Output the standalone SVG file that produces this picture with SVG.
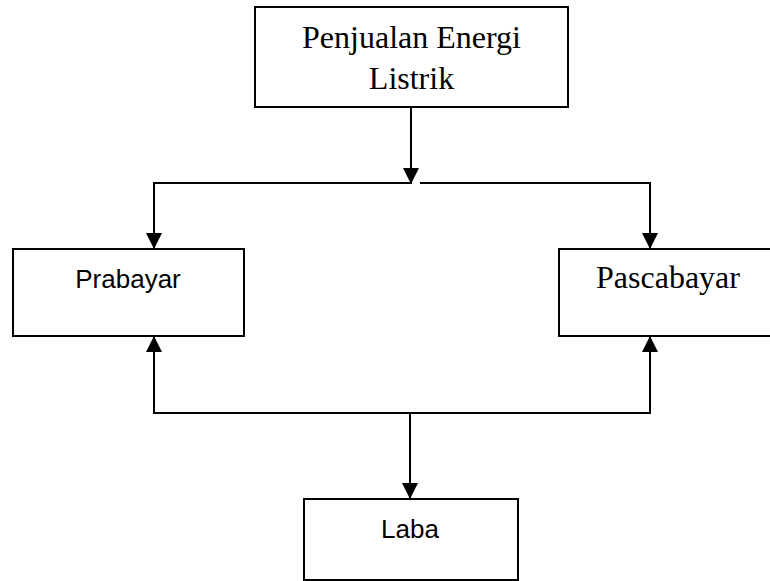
<svg xmlns="http://www.w3.org/2000/svg" width="770" height="581" viewBox="0 0 770 581">
<style>
.box{fill:#fff;stroke:#000;stroke-width:2}
.ln{fill:none;stroke:#000;stroke-width:2}
.serif{font-family:"Liberation Serif","Times New Roman",serif;font-size:32px;fill:#000;text-anchor:middle}
.sans{font-family:"Liberation Sans",Arial,sans-serif;font-size:26px;fill:#000;text-anchor:middle}
</style>
<defs>
<marker id="arr" markerUnits="userSpaceOnUse" markerWidth="16" markerHeight="16" viewBox="0 0 16 16" refX="16" refY="8" orient="auto">
<path d="M0,0 L16,8 L0,16 Z" fill="#000"/>
</marker>
</defs>
<g id="connectors">
<line class="ln" x1="411" y1="107" x2="411" y2="184" marker-end="url(#arr)"/>
<polyline class="ln" points="411,183 154,183 154,249" marker-end="url(#arr)"/>
<polyline class="ln" points="420,183 650,183 650,249" marker-end="url(#arr)"/>
<polyline class="ln" points="410,413 154,413 154,336" marker-end="url(#arr)"/>
<polyline class="ln" points="410,413 650,413 650,336" marker-end="url(#arr)"/>
<line class="ln" x1="410" y1="413" x2="410" y2="499" marker-end="url(#arr)"/>
</g>
<g id="penjualan">
<rect class="box" x="255" y="7" width="313" height="100"/>
<text class="serif" x="411.5" y="48">Penjualan Energi</text>
<text class="serif" x="411.5" y="89">Listrik</text>
</g>
<g id="prabayar">
<rect class="box" x="13" y="249" width="231" height="87"/>
<text class="sans" x="128" y="288">Prabayar</text>
</g>
<g id="pascabayar">
<rect class="box" x="559" y="249" width="220" height="87"/>
<text class="serif" x="668" y="288">Pascabayar</text>
</g>
<g id="laba">
<rect class="box" x="304" y="499" width="214" height="81"/>
<text class="sans" x="410" y="538">Laba</text>
</g>
</svg>
